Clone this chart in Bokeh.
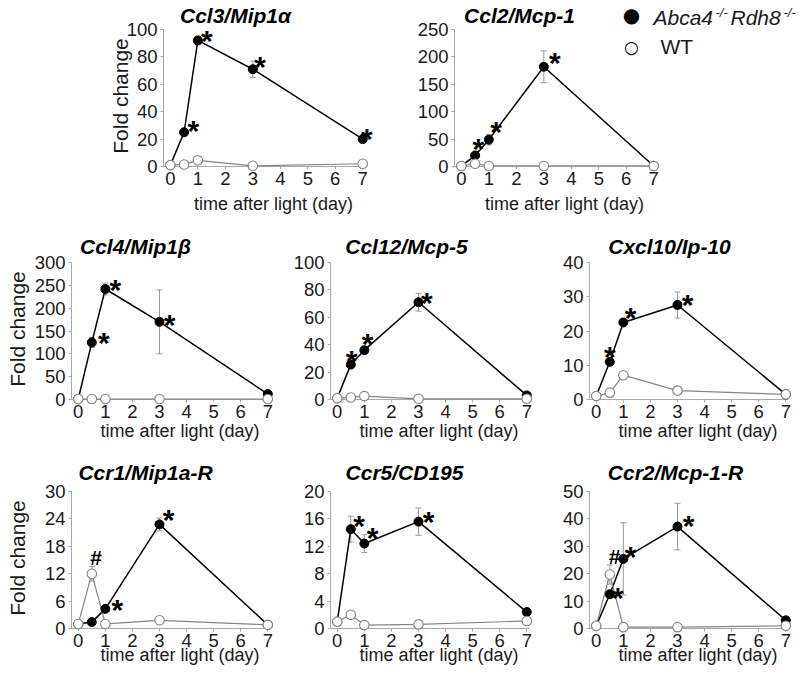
import math
from bokeh.plotting import figure
from bokeh.models import FixedTicker, ColumnDataSource, Whisker, TeeHead, Range1d
from bokeh.layouts import column, row
from bokeh.embed import file_html
from bokeh.resources import INLINE
from bokeh.core.properties import value

# ---------------- data ----------------
days = [0, 0.5, 1, 3, 7]
x_ticks = [0, 1, 2, 3, 4, 5, 6, 7]
x_label = "time after light (day)"
y_label = "Fold change"
legend_ko = ["Abca4", "-/-", "Rdh8", "-/-"]
legend_wt = "WT"

ccl3_title = "Ccl3/Mip1α"
ccl3_ticks = [0, 20, 40, 60, 80, 100]
ccl3_ko = [1, 25, 92, 71, 20]
ccl3_ko_err = [0, 1.5, 3, 6, 1.5]
ccl3_wt = [1, 1.5, 4.5, 0.5, 2]
ccl3_wt_err = [0, 0, 0, 0, 0]
ccl3_star = [1, 2, 3, 4]
ccl3_hash = []

ccl2_title = "Ccl2/Mcp-1"
ccl2_ticks = [0, 50, 100, 150, 200, 250]
ccl2_ko = [1, 20, 49, 182, 1]
ccl2_ko_err = [0, 3, 9.5, 29, 0]
ccl2_wt = [1, 5, 1, 1, 1]
ccl2_wt_err = [0, 0, 0, 0, 0]
ccl2_star = [1, 2, 3]
ccl2_hash = []

ccl4_title = "Ccl4/Mip1β"
ccl4_ticks = [0, 50, 100, 150, 200, 250, 300]
ccl4_ko = [1, 125, 242, 170, 12]
ccl4_ko_err = [0, 11, 13, 70, 2]
ccl4_wt = [1, 1, 1, 1, 1]
ccl4_wt_err = [0, 0, 0, 0, 0]
ccl4_star = [1, 2, 3]
ccl4_hash = []

ccl12_title = "Ccl12/Mcp-5"
ccl12_ticks = [0, 20, 40, 60, 80, 100]
ccl12_ko = [1, 25.5, 36, 71, 3]
ccl12_ko_err = [0, 1.5, 2.5, 6.5, 0.5]
ccl12_wt = [1, 1.5, 2.5, 0.5, 0.5]
ccl12_wt_err = [0, 0, 0, 0, 0]
ccl12_star = [1, 2, 3]
ccl12_hash = []

cxcl10_title = "Cxcl10/Ip-10"
cxcl10_ticks = [0, 10, 20, 30, 40]
cxcl10_ko = [1, 11, 22.5, 27.6, 1.5]
cxcl10_ko_err = [0, 0.8, 1, 3.8, 0.2]
cxcl10_wt = [1, 2, 7.1, 2.6, 1.5]
cxcl10_wt_err = [0, 0, 0, 0, 0]
cxcl10_star = [1, 2, 3]
cxcl10_hash = []

ccr1_title = "Ccr1/Mip1a-R"
ccr1_ticks = [0, 6, 12, 18, 24, 30]
ccr1_ko = [1, 1.4, 4.3, 22.8, 0.8]
ccr1_ko_err = [0, 0, 0.4, 1.4, 0]
ccr1_wt = [1, 12, 1, 1.8, 0.8]
ccr1_wt_err = [0, 1.6, 0, 0, 0]
ccr1_star = [2, 3]
ccr1_hash = [1]

ccr5_title = "Ccr5/CD195"
ccr5_ticks = [0, 4, 8, 12, 16, 20]
ccr5_ko = [1, 14.5, 12.4, 15.6, 2.4]
ccr5_ko_err = [0, 1.9, 1.3, 2.0, 0.2]
ccr5_wt = [1, 2, 0.5, 0.6, 1.1]
ccr5_wt_err = [0, 0, 0, 0, 0]
ccr5_star = [1, 2, 3]
ccr5_hash = []

ccr2_title = "Ccr2/Mcp-1-R"
ccr2_ticks = [0, 10, 20, 30, 40, 50]
ccr2_ko = [1, 12.5, 25.4, 37.2, 3]
ccr2_ko_err = [0, 1, 13.2, 8.5, 0.3]
ccr2_wt = [1, 19.7, 0.5, 0.5, 1]
ccr2_wt_err = [0, 3.5, 0, 0, 0]
ccr2_star = [1, 2, 3]
ccr2_hash = [1]

# ---------------- style / layout ----------------
FONT = "Liberation Sans"
AXC = "#a8a8a8"
ERRC = "#9a9a9a"
WTC = "#858585"
XS, XE = -0.25, 7.1
FH = 137
STAR_FS = 30
HASH_FS = 21
STAR_FIX = 0.2 * STAR_FS


def txt(p, x, y, t, dx, dy, fs, style="normal", align="left", angle=0.0,
        font=FONT, color="#1a1a1a"):
    p.text(x=[x], y=[y], text=[t], x_offset=dx, y_offset=dy, angle=angle,
           text_font=value(font), text_font_size=fs, text_font_style=style,
           text_color=color, text_align=align, text_baseline="middle", level="overlay")


def panel(title, ticks, ko, ko_err, wt, wt_err, star_idx, hash_idx, L):
    ymax = ticks[-1]
    fw = L["fw"]
    p = figure(width=L["l"] + fw + L["r"], height=L["t"] + FH + L["b"],
               x_range=Range1d(XS, XE), y_range=Range1d(0, ymax),
               output_backend="svg", toolbar_location=None,
               min_border_left=L["l"], min_border_right=L["r"],
               min_border_top=L["t"], min_border_bottom=L["b"])
    p.outline_line_color = None
    p.grid.visible = False
    p.background_fill_color = "white"
    p.border_fill_color = "white"
    for ax in (p.xaxis[0], p.yaxis[0]):
        ax.axis_line_color = AXC
        ax.axis_line_width = 1
        ax.major_tick_line_color = AXC
        ax.minor_tick_line_color = None
        ax.major_tick_in = 0
        ax.major_tick_out = 3
        ax.major_label_text_font = FONT
        ax.major_label_text_font_size = "18.5px"
        ax.major_label_text_color = "#1a1a1a"
    p.xaxis.ticker = FixedTicker(ticks=x_ticks)
    p.yaxis.ticker = FixedTicker(ticks=ticks)
    p.xaxis.major_label_standoff = 2
    p.yaxis.major_label_standoff = 3

    for ys, es in ((ko, ko_err), (wt, wt_err)):
        xs = [d for d, e in zip(days, es) if e > 0]
        if xs:
            lo = [y - e for y, e in zip(ys, es) if e > 0]
            hi = [y + e for y, e in zip(ys, es) if e > 0]
            src = ColumnDataSource(dict(x=xs, lo=lo, hi=hi))
            p.add_layout(Whisker(source=src, base="x", lower="lo", upper="hi",
                                 line_color=ERRC, line_width=1,
                                 upper_head=TeeHead(size=6, line_color=ERRC, line_width=1),
                                 lower_head=TeeHead(size=6, line_color=ERRC, line_width=1)))

    p.line(days, ko, line_color="black", line_width=1.5, level="overlay")
    p.line(days, wt, line_color=WTC, line_width=1.2, level="overlay")
    p.scatter(days, ko, size=9, fill_color="black", line_color="black", level="overlay")
    p.scatter(days, wt, size=9.5, fill_color="white", line_color=WTC, line_width=1.1,
              level="overlay")

    if star_idx:
        so = L["stars"]
        src = ColumnDataSource(dict(x=[days[i] for i in star_idx], y=[ko[i] for i in star_idx],
                                    t=["*"] * len(star_idx),
                                    dx=[o[0] for o in so],
                                    dy=[o[1] + STAR_FIX for o in so]))
        p.text(x="x", y="y", text="t", x_offset="dx", y_offset="dy", source=src,
               text_font=value(FONT), text_font_size=f"{STAR_FS}px", text_font_style="bold",
               text_color="black", text_align="center", text_baseline="middle",
               level="overlay")
    if hash_idx:
        ho = L["hash"]
        src = ColumnDataSource(dict(x=[days[i] for i in hash_idx], y=[wt[i] for i in hash_idx],
                                    t=["#"] * len(hash_idx),
                                    dx=[o[0] for o in ho], dy=[o[1] for o in ho]))
        p.text(x="x", y="y", text="t", x_offset="dx", y_offset="dy", source=src,
               text_font=value(FONT), text_font_size=f"{HASH_FS}px", text_font_style="bold",
               text_color="black", text_align="center", text_baseline="middle",
               level="overlay")

    # title, centred ty px above the frame top
    txt(p, XS, ymax, title, L["tx"], -L["ty"], "21px", style="bold italic",
        align="center", color="black")
    # x label, centred xl px below the frame bottom
    txt(p, XS, 0, x_label, fw / 2 + 9, L["xl"], "18px", align="center")
    # y label
    if "yl" in L:
        txt(p, XS, ymax / 2, y_label, L["yl"], -2, "21px", align="center",
            angle=math.pi / 2)
    return p


def add_legend(p, ymax):
    # legend anchored at the frame's top-right corner, offsets in pixels
    txt(p, XE, ymax, "●", -25, -14.5, "20px", align="center",
        font="DejaVu Sans", color="black")
    txt(p, XE, ymax, "○", -25, 17.7, "17px", align="center",
        font="DejaVu Sans", color="black")
    parts = [(legend_ko[0], -3, -12.5, "21px", "italic"),
             (legend_ko[1], 59, -17.5, "13px", "italic"),
             (legend_ko[2], 74, -12.5, "21px", "italic"),
             (legend_ko[3], 127, -17.5, "13px", "italic"),
             (legend_wt, 4, 17, "21px", "normal")]
    for t, dx, dy, fs, st in parts:
        txt(p, XE, ymax, t, dx, dy, fs, style=st)


LA = dict(l=163, r=37, t=29, b=59, fw=202, tx=72, ty=14, xl=37, yl=-43.5,
          stars=[(9.3, -7.3), (9, -5.7), (7.3, -8.3), (4, -6.7)])
LB = dict(l=52, r=144, t=29, b=59, fw=202, tx=65, ty=14, xl=37,
          stars=[(3.3, -12.7), (7.3, -14), (11, -10.7)])
L1 = dict(l=71, r=20, t=37, b=56, fw=199, tx=64, ty=16.5, xl=31, yl=-54,
          stars=[(12, -6), (10, -5), (10, -3.7)])
L2 = dict(l=40, r=20, t=37, b=56, fw=199, tx=76, ty=16.5, xl=31,
          stars=[(0.7, -10.3), (3.3, -12.7), (8.3, -6)])
L3 = dict(l=40, r=12, t=37, b=56, fw=199, tx=80, ty=16.5, xl=31,
          stars=[(0, -11.7), (7.3, -10.7), (10, -6)])
L4 = dict(l=71, r=20, t=36, b=48, fw=199, tx=74, ty=19.5, xl=26, yl=-54,
          stars=[(12, -5.7), (9, -10.7)], hash=[(4.3, -16)])
L5 = dict(l=40, r=20, t=36, b=48, fw=199, tx=74, ty=19.5, xl=26,
          stars=[(8.3, -10), (8.3, -11.7), (10, -6)])
L6 = dict(l=40, r=12, t=36, b=48, fw=199, tx=86, ty=19.5, xl=26,
          stars=[(8, -3), (7.3, -8.7), (11, -6.7)], hash=[(4.7, -18.3)])

pA = panel(ccl3_title, ccl3_ticks, ccl3_ko, ccl3_ko_err, ccl3_wt, ccl3_wt_err, ccl3_star, ccl3_hash, LA)
pB = panel(ccl2_title, ccl2_ticks, ccl2_ko, ccl2_ko_err, ccl2_wt, ccl2_wt_err, ccl2_star, ccl2_hash, LB)
add_legend(pB, ccl2_ticks[-1])
p1 = panel(ccl4_title, ccl4_ticks, ccl4_ko, ccl4_ko_err, ccl4_wt, ccl4_wt_err, ccl4_star, ccl4_hash, L1)
p2 = panel(ccl12_title, ccl12_ticks, ccl12_ko, ccl12_ko_err, ccl12_wt, ccl12_wt_err, ccl12_star, ccl12_hash, L2)
p3 = panel(cxcl10_title, cxcl10_ticks, cxcl10_ko, cxcl10_ko_err, cxcl10_wt, cxcl10_wt_err, cxcl10_star, cxcl10_hash, L3)
p4 = panel(ccr1_title, ccr1_ticks, ccr1_ko, ccr1_ko_err, ccr1_wt, ccr1_wt_err, ccr1_star, ccr1_hash, L4)
p5 = panel(ccr5_title, ccr5_ticks, ccr5_ko, ccr5_ko_err, ccr5_wt, ccr5_wt_err, ccr5_star, ccr5_hash, L5)
p6 = panel(ccr2_title, ccr2_ticks, ccr2_ko, ccr2_ko_err, ccr2_wt, ccr2_wt_err, ccr2_star, ccr2_hash, L6)

layout = column(row(pA, pB), row(p1, p2, p3), row(p4, p5, p6))

open("out.html", "w").write(file_html(layout, INLINE))
